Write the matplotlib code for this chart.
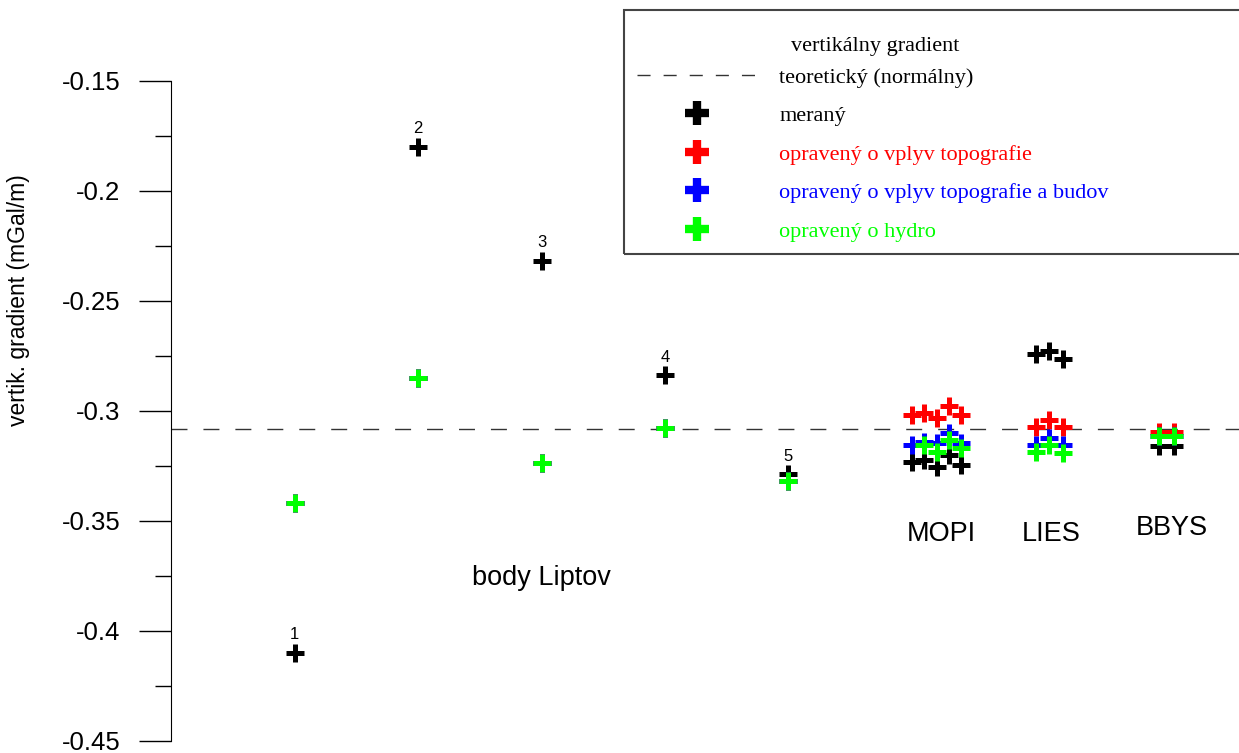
import matplotlib
matplotlib.use("Agg")
import matplotlib.pyplot as plt
from matplotlib.lines import Line2D
from matplotlib.patches import Rectangle

# ---------- data (vertikálny gradient, mGal/m) ----------
normal_gradient = -0.3086

# body Liptov 1..5
liptov_x = [1, 2, 3, 4, 5]
liptov_labels = ["1", "2", "3", "4", "5"]
liptov_meas = [-0.410, -0.180, -0.232, -0.284, -0.329]
liptov_topo = [-0.342, -0.285, -0.324, -0.308, -0.332]
liptov_budov = [-0.342, -0.285, -0.324, -0.308, -0.332]
liptov_hydro = [-0.342, -0.285, -0.324, -0.308, -0.332]

# MOPI
mopi_x = [6.0, 6.1, 6.2, 6.3, 6.4]
mopi_meas = [-0.3233, -0.3225, -0.3255, -0.3202, -0.3248]
mopi_topo = [-0.3020, -0.3013, -0.3035, -0.2980, -0.3020]
mopi_budov = [-0.3157, -0.3142, -0.3148, -0.3102, -0.3148]
mopi_hydro_x = [6.1, 6.2, 6.3, 6.4]
mopi_hydro = [-0.3157, -0.3187, -0.3134, -0.3170]

# LIES
lies_x = [7.0, 7.11, 7.22]
lies_meas = [-0.2745, -0.2730, -0.2765]
lies_topo = [-0.3074, -0.3043, -0.3074]
lies_budov = [-0.3157, -0.3126, -0.3157]
lies_hydro = [-0.3187, -0.3157, -0.3195]

# BBYS
bbys_x = [8.0, 8.12]
bbys_meas = [-0.3160, -0.3160]
bbys_topo = [-0.3098, -0.3098]
bbys_budov = [-0.3116, -0.3116]
bbys_hydro = [-0.3116, -0.3116]

# station names and their label positions
stations = ["MOPI", "LIES", "BBYS"]
station_text_x = [6.235, 7.13, 8.1]
station_text_y = [-0.3562, -0.3562, -0.3535]

legend_title = "vertikálny gradient"
legend_labels = ["teoretický (normálny)", "meraný", "opravený o vplyv topografie",
                 "opravený o vplyv topografie a budov", "opravený o hydro"]

BLACK, RED, BLUE, GREEN = "#000000", "#ff0000", "#0000ff", "#00ff00"

plt.rcParams['font.family'] = ['Liberation Sans', 'DejaVu Sans']

fig = plt.figure(figsize=(12.39, 7.53), dpi=100)
ax = fig.add_axes([171 / 1239, 12.5 / 753, 1 - 171 / 1239, 1 - 12.5 / 753])

ax.axhline(normal_gradient, color="#333333", lw=1.0, dashes=(11.5, 11.5))

mk = dict(marker="+", ls="none", markersize=12.5, mew=3.6)
groups = [
    (BLACK, [(liptov_x, liptov_meas), (mopi_x, mopi_meas), (lies_x, lies_meas), (bbys_x, bbys_meas)]),
    (RED, [(liptov_x, liptov_topo), (mopi_x, mopi_topo), (lies_x, lies_topo), (bbys_x, bbys_topo)]),
    (BLUE, [(liptov_x, liptov_budov), (mopi_x, mopi_budov), (lies_x, lies_budov), (bbys_x, bbys_budov)]),
    (GREEN, [(liptov_x, liptov_hydro), (mopi_hydro_x, mopi_hydro), (lies_x, lies_hydro), (bbys_x, bbys_hydro)]),
]
for color, series in groups:
    for xs, ys in series:
        ax.plot(xs, ys, color=color, **mk)

# point numbers above measured values
for x, y, lab in zip(liptov_x, liptov_meas, liptov_labels):
    ax.annotate(lab, (x, y), xytext=(0, 13), textcoords="offset points",
                ha="center", va="center", fontsize=12)

for name, tx, ty in zip(stations, station_text_x, station_text_y):
    ax.text(tx, ty, name, ha="center", va="center", fontsize=19.5)
ax.text(3.0, -0.3762, "body Liptov", ha="center", va="center", fontsize=19.5)

# axes
ax.set_xlim(0, 1068 / 123.5)
ax.set_ylim(-0.45, -0.15 + 80.5 / 2200)
for s in ["top", "right", "bottom"]:
    ax.spines[s].set_visible(False)
ax.spines["left"].set_bounds(-0.45, -0.15)
ax.set_xticks([])
ax.set_yticks([-0.45, -0.4, -0.35, -0.3, -0.25, -0.2, -0.15])
ax.set_yticklabels(["-0.45", "-0.4", "-0.35", "-0.3", "-0.25", "-0.2", "-0.15"])
ax.set_yticks([-0.425, -0.375, -0.325, -0.275, -0.225, -0.175], minor=True)
ax.tick_params(axis="y", which="major", direction="out", length=23, width=1, pad=13.5, labelsize=18.5)
ax.tick_params(axis="y", which="minor", direction="out", length=11.5, width=1)
ax.set_ylabel("vertik. gradient (mGal/m)", fontsize=16.5)
ax.yaxis.set_label_coords(-0.132, 0.595)

# legend (title drawn separately, box drawn as a rectangle)
handles = [
    Line2D([], [], color="#333333", lw=1.0, dashes=(9.4, 9.4)),
    Line2D([], [], color=BLACK, marker="+", ls="none", markersize=17.5, mew=6),
    Line2D([], [], color=RED, marker="+", ls="none", markersize=17.5, mew=6),
    Line2D([], [], color=BLUE, marker="+", ls="none", markersize=17.5, mew=6),
    Line2D([], [], color=GREEN, marker="+", ls="none", markersize=17.5, mew=6),
]
leg = fig.legend(handles, legend_labels,
                 loc="upper left", bbox_to_anchor=(637 / 1239, 1 - 67 / 753),
                 frameon=False, borderpad=0, borderaxespad=0,
                 handlelength=5.4, handletextpad=1.0, labelspacing=0.81,
                 prop={"family": "Liberation Serif", "size": 16},
                 labelcolor=[BLACK, BLACK, RED, BLUE, GREEN])
fig.text(875 / 1239, 1 - 46 / 753, legend_title, ha="center", va="center",
         family="Liberation Serif", fontsize=16)
fig.patches.append(Rectangle((624 / 1239, 1 - 254 / 753), 0.6, 244 / 753,
                             transform=fig.transFigure, fill=False,
                             edgecolor="#444444", lw=1.5))

fig.savefig("out.png", dpi=100)
